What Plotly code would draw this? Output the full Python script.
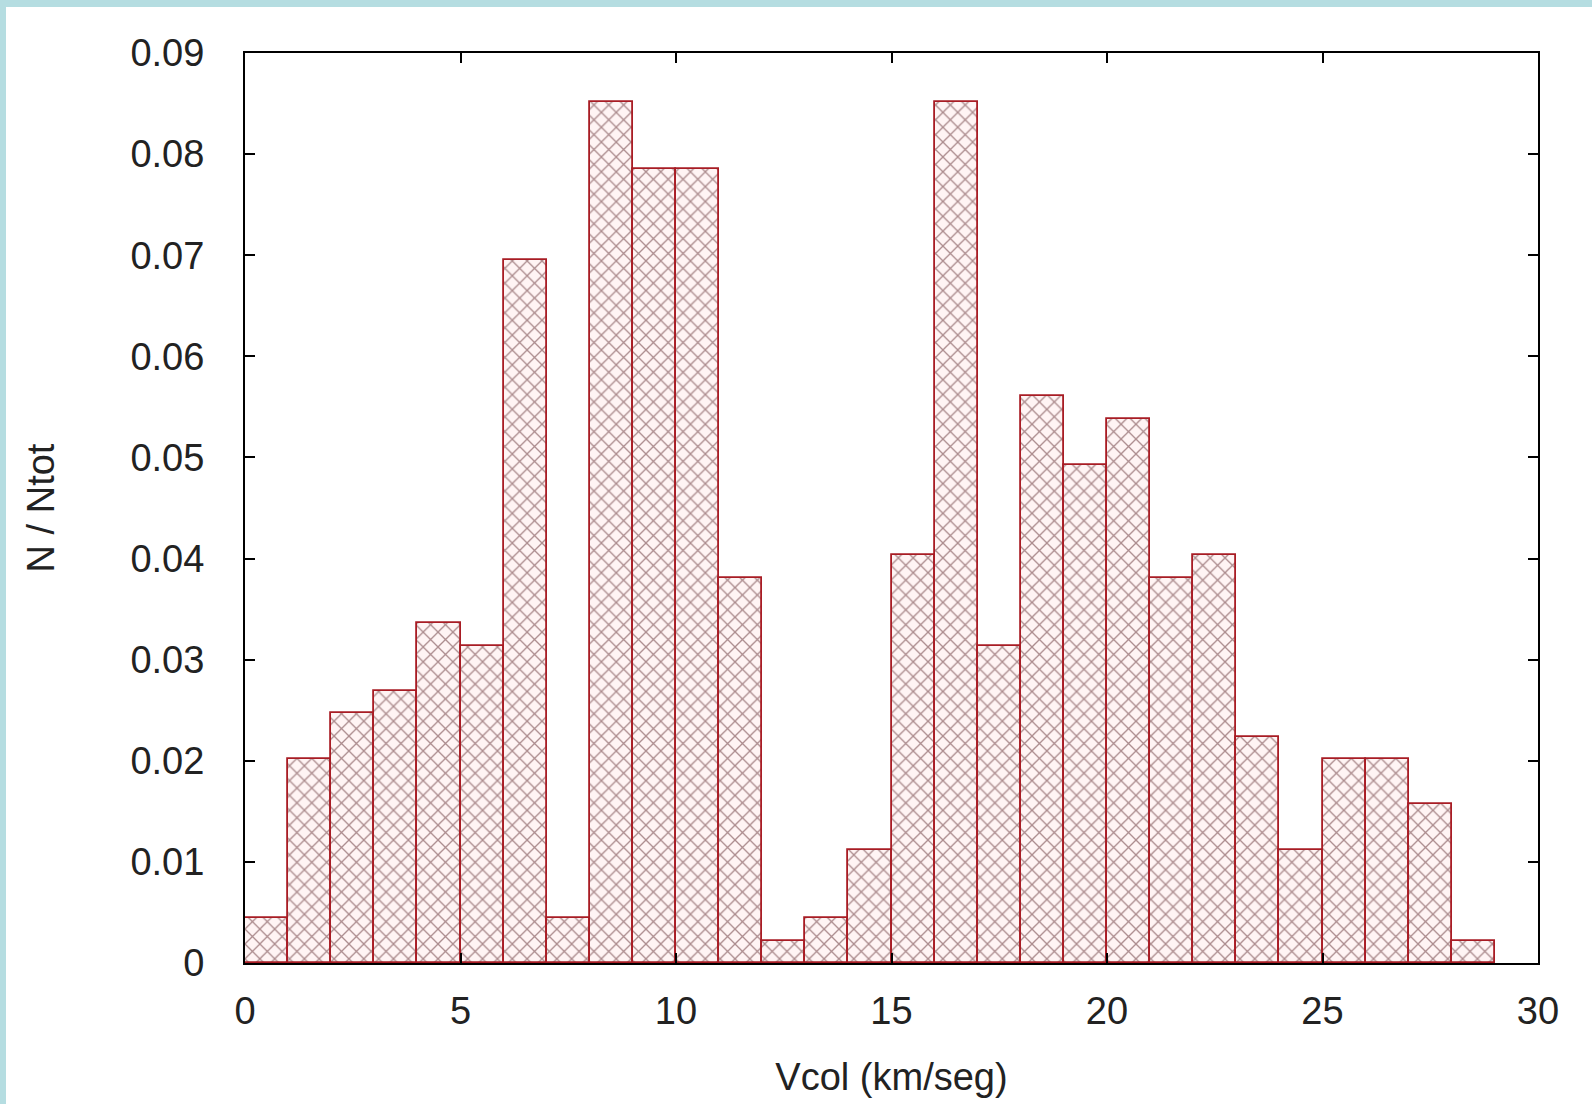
import plotly.graph_objects as go

# Histogram bins (left edge of each 1 km/seg bin)
bin_start = [0, 1, 2, 3, 4, 5, 6, 7, 8, 9, 10, 11, 12, 13, 14,
             15, 16, 17, 18, 19, 20, 21, 22, 23, 24, 25, 26, 27, 28]
# N / Ntot
frac = [0.0045, 0.0202, 0.0247, 0.0269, 0.0336, 0.0314, 0.0695, 0.0045,
        0.0852, 0.0785, 0.0785, 0.0381, 0.0022, 0.0045, 0.0112,
        0.0404, 0.0852, 0.0314, 0.0561, 0.0493, 0.0538, 0.0381, 0.0404,
        0.0224, 0.0112, 0.0202, 0.0202, 0.0157, 0.0022]

x_ticks = [0, 5, 10, 15, 20, 25, 30]
y_ticks = [0, 0.01, 0.02, 0.03, 0.04, 0.05, 0.06, 0.07, 0.08, 0.09]
y_tick_text = ["0", "0.01", "0.02", "0.03", "0.04", "0.05", "0.06", "0.07", "0.08", "0.09"]

W, H = 1592, 1104
L, R, T, B = 245, 54, 53, 141
pw, ph = W - L - R, H - T - B

fig = go.Figure()
fig.add_trace(go.Bar(
    x=bin_start, y=frac, width=1, offset=0,
    marker=dict(
        color="white",
        line=dict(color="#a81c24", width=1.8),
        pattern=dict(shape="x", fgcolor="#5a2428", bgcolor="#fff4f4",
                     size=10.5, solidity=0.24),
    ),
    showlegend=False,
))

FONT = "Liberation Sans, Arial, sans-serif"
FS = 38
fig.update_layout(
    width=W, height=H,
    margin=dict(l=L, r=R, t=T, b=B, pad=0, autoexpand=False),
    paper_bgcolor="white", plot_bgcolor="white",
    font=dict(family=FONT, size=FS, color="#222"),
    bargap=0,
    xaxis=dict(range=[0, 30], tickvals=x_ticks, ticks="inside", ticklen=10,
               tickwidth=2, tickcolor="black", showline=True, linecolor="black",
               linewidth=2, mirror="ticks", showgrid=False, zeroline=False,
               automargin=False,
               tickfont=dict(size=FS), ticklabelstandoff=13,
               title=dict(text="Vcol (km/seg)", font=dict(size=FS), standoff=33)),
    yaxis=dict(range=[0, 0.09], tickvals=y_ticks, ticktext=y_tick_text,
               ticks="inside", ticklen=10, tickwidth=2, tickcolor="black",
               showline=True, linecolor="black", linewidth=2, mirror="ticks",
               showgrid=False, zeroline=False, automargin=False,
               tickfont=dict(size=FS), ticklabelstandoff=31,
               title=dict(text="N / Ntot", font=dict(size=FS), standoff=64)),
    shapes=[
        dict(type="rect", xref="paper", yref="paper", layer="below",
             x0=-L / pw, x1=(6 - L) / pw, y0=-B / ph, y1=1 + T / ph,
             fillcolor="#b5dde1", line=dict(width=0)),
        dict(type="rect", xref="paper", yref="paper", layer="below",
             x0=-L / pw, x1=1 + R / pw, y0=1 + (T - 7) / ph, y1=1 + T / ph,
             fillcolor="#b5dde1", line=dict(width=0)),
    ],
)

fig.write_html("out.html")
